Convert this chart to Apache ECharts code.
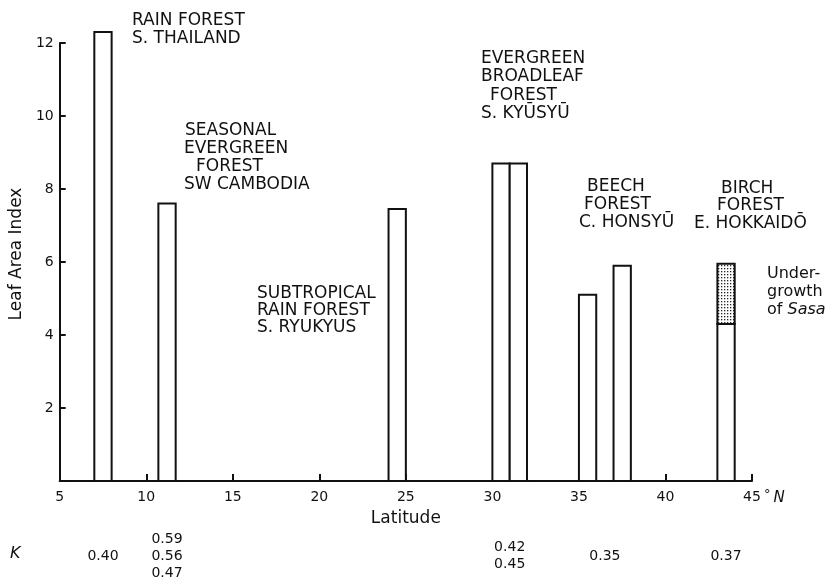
<!DOCTYPE html>
<html>
<head>
<meta charset="utf-8">
<script src="https://cdn.jsdelivr.net/npm/echarts@6/dist/echarts.min.js"></script>
<style>
  html, body { margin: 0; padding: 0; background: #fff; }
  #chart { width: 829px; height: 578px; }
</style>
</head>
<body>
<div id="chart"></div>
<script>
// Leaf area index of forest stands from the tropics to Hokkaido.
// Each stand is drawn as a bar spanning one degree of latitude.
const latFrom = [7, 10.7, 24, 30, 31, 35, 37, 43];
const latTo = [8, 11.7, 25, 31, 32, 36, 38, 44];
const leafAreaIndex = [12.3, 7.6, 7.45, 8.7, 8.7, 5.1, 5.9, 4.3];

// Sasa undergrowth, stacked on top of the birch stand
const sasaFrom = [43];
const sasaTo = [44];
const sasaBase = [4.3];
const sasaIndex = [1.65];

// Extinction coefficient K listed below each stand
const kLatitude = [7.5, 11.2, 31, 36.5, 43.5];
const kValues = [['0.40'], ['0.59', '0.56', '0.47'], ['0.42', '0.45'], ['0.35'], ['0.37']];

// Forest labels: [text, left x, middle y]
const forestLabels = [
  ['RAIN FOREST', 132, 21], ['S. THAILAND', 132, 39],
  ['SEASONAL', 185, 131], ['EVERGREEN', 184, 149], ['FOREST', 196, 167], ['SW CAMBODIA', 184, 185],
  ['SUBTROPICAL', 257, 294], ['RAIN FOREST', 257, 311], ['S. RYUKYUS', 257, 328],
  ['EVERGREEN', 481, 59], ['BROADLEAF', 481, 77], ['FOREST', 490, 96], ['S. KYŪSYŪ', 481, 114],
  ['BEECH', 587, 187], ['FOREST', 584, 205], ['C. HONSYŪ', 579, 223],
  ['BIRCH', 721, 189], ['FOREST', 717, 206], ['E. HOKKAIDŌ', 694, 224]
];

const INK = '#111';
const FONT = 'DejaVu Sans';

// stipple used for the Sasa layer
function stipple() {
  const c = document.createElement('canvas');
  c.width = 3; c.height = 3;
  const g = c.getContext('2d');
  g.fillStyle = '#fff';
  g.fillRect(0, 0, 3, 3);
  g.fillStyle = '#222';
  g.fillRect(1, 1, 1.3, 1.3);
  return c;
}

function spanRenderer(fill) {
  return function (params, api) {
    const lo = api.coord([api.value(0), api.value(2)]);
    const hi = api.coord([api.value(1), api.value(3)]);
    return {
      type: 'rect',
      shape: { x: lo[0], y: hi[1], width: hi[0] - lo[0], height: lo[1] - hi[1] },
      style: { fill: fill, stroke: INK, lineWidth: 2 }
    };
  };
}

const standData = latFrom.map((f, i) => [f, latTo[i], 0, leafAreaIndex[i]]);
const sasaData = sasaFrom.map((f, i) => [f, sasaTo[i], sasaBase[i], sasaBase[i] + sasaIndex[i]]);

const chart = echarts.init(document.getElementById('chart'), null, { renderer: 'canvas' });

chart.setOption({
  backgroundColor: '#fff',
  animation: false,
  grid: { left: 58, right: 77, top: 43, bottom: 97 },
  xAxis: {
    type: 'value', min: 5, max: 45, interval: 5,
    name: 'Latitude', nameLocation: 'middle', nameGap: 29,
    nameTextStyle: { color: INK, fontFamily: FONT, fontSize: 17 },
    axisLine: { lineStyle: { color: INK, width: 2 } },
    axisTick: { inside: true, length: 7, lineStyle: { color: INK, width: 2 } },
    axisLabel: { color: INK, fontFamily: FONT, fontSize: 14, margin: 9 },
    splitLine: { show: false }
  },
  yAxis: {
    type: 'value', min: 0, max: 12, interval: 2,
    name: 'Leaf Area Index', nameLocation: 'middle', nameGap: 29,
    nameTextStyle: { color: INK, fontFamily: FONT, fontSize: 17, padding: [0, 0, 0, 16] },
    axisLine: { lineStyle: { color: INK, width: 2 } },
    axisTick: { inside: true, length: 6, lineStyle: { color: INK, width: 2 } },
    axisLabel: {
      color: INK, fontFamily: FONT, fontSize: 14, margin: 6,
      formatter: v => (v === 0 ? '' : String(v))
    },
    splitLine: { show: false }
  },
  series: [
    {
      name: 'Leaf area index', type: 'custom', clip: false,
      renderItem: spanRenderer('#fff'),
      encode: { x: [0, 1], y: [2, 3] },
      data: standData
    },
    {
      name: 'Sasa undergrowth', type: 'custom', clip: false,
      renderItem: spanRenderer({ image: stipple(), repeat: 'repeat' }),
      encode: { x: [0, 1], y: [2, 3] },
      data: sasaData
    }
  ]
});

// text placed after the axes exist, so latitude can be mapped to pixels
const px45 = chart.convertToPixel({ xAxisIndex: 0 }, 45);
const yAxisPx = chart.convertToPixel({ yAxisIndex: 0 }, 0);

const graphics = forestLabels.map(([t, x, y]) => ({
  type: 'text', x: x, y: y,
  style: { text: t, fill: INK, font: '17px "' + FONT + '"', align: 'left', verticalAlign: 'middle' }
}));

graphics.push({
  type: 'text', x: px45 + 12, y: yAxisPx + 17,
  style: {
    text: '{d|°}{n|N}', verticalAlign: 'middle', align: 'left', fill: INK,
    rich: {
      d: { fontFamily: FONT, fontSize: 13, fill: INK, padding: [0, 3, 6, 0] },
      n: { fontFamily: FONT, fontSize: 15, fontStyle: 'italic', fill: INK }
    }
  }
});

graphics.push({
  type: 'text', x: 767, y: 265,
  style: {
    text: 'Under-\ngrowth\nof {i|Sasa}', fill: INK, align: 'left', verticalAlign: 'top',
    font: '16px "' + FONT + '"', lineHeight: 18,
    rich: { i: { fontFamily: FONT, fontSize: 16, fontStyle: 'italic', fill: INK, lineHeight: 18 } }
  }
});

graphics.push({
  type: 'text', x: 10, y: 554,
  style: { text: 'K', fill: INK, font: 'italic 16px "' + FONT + '"', align: 'left', verticalAlign: 'middle' }
});

kLatitude.forEach((lat, i) => {
  graphics.push({
    type: 'text', x: chart.convertToPixel({ xAxisIndex: 0 }, lat), y: 556,
    style: {
      text: kValues[i].join('\n'), fill: INK, font: '14px "' + FONT + '"',
      lineHeight: 17, align: 'center', verticalAlign: 'middle'
    }
  });
});

chart.setOption({ graphic: graphics });
</script>
</body>
</html>
